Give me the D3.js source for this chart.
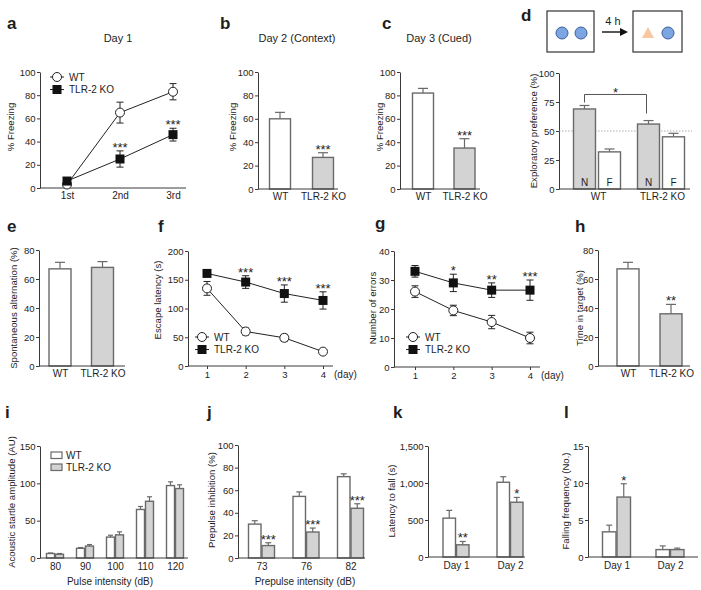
<!DOCTYPE html>
<html><head><meta charset="utf-8">
<script src="https://cdn.jsdelivr.net/npm/d3@7"></script>
<style>body{margin:0;background:#fff}</style>
</head><body><svg id="c" width="701" height="590"></svg>
<script>
// ---------- DATA ----------
const groups = ["WT", "TLR-2 KO"];
// a: Day 1 freezing
const aDays = ["1st", "2nd", "3rd"];
const aWT = [3, 65, 83], aWTerr = [1.5, 9, 7];
const aKO = [6, 25, 46], aKOerr = [2, 7, 5.5];
const aStars = ["", "***", "***"];
// b: Day 2 context
const bValues = [60, 27], bErr = [5.5, 4];
const bStars = ["", "***"];
// c: Day 3 cued
const cValues = [82, 35], cErr = [4, 8];
const cStars = ["", "***"];
// d: exploratory preference (N, F)
const dObjects = ["N", "F"];
const dWT = [69, 32], dWTerr = [3, 2.5];
const dKO = [56, 45], dKOerr = [3, 3];
// e: spontaneous alternation
const eValues = [67, 68], eErr = [4.5, 4];
// f: escape latency
const fDays = [1, 2, 3, 4];
const fWT = [135, 60, 49, 25], fWTerr = [12, 6, 6, 3];
const fKO = [161, 146, 126, 114], fKOerr = [5, 11, 15, 15];
const fStars = ["", "***", "***", "***"];
// g: number of errors
const gDays = [1, 2, 3, 4];
const gWT = [26, 19.5, 15.5, 10], gWTerr = [2, 1.8, 2.3, 2];
const gKO = [33, 29, 26.5, 26.5], gKOerr = [2, 3, 2.5, 3.5];
const gStars = ["", "*", "**", "***"];
// h: time in target
const hValues = [67, 36], hErr = [4.5, 6.5];
const hStars = ["", "**"];
// i: acoustic startle
const iIntensity = [80, 90, 100, 110, 120];
const iWT = [6, 13, 28, 65, 97], iWTerr = [0.7, 1, 2.5, 4, 5];
const iKO = [5, 16, 31, 76, 93], iKOerr = [1, 2, 4, 6, 5];
// j: prepulse inhibition
const jIntensity = [73, 76, 82];
const jWT = [30, 54.5, 72], jWTerr = [3, 4, 2.5];
const jKO = [11, 23, 44], jKOerr = [2.5, 3.5, 4];
const jStars = ["***", "***", "***"];
// k: latency to fall
const kDays = ["Day 1", "Day 2"];
const kWT = [525, 1010], kWTerr = [105, 75];
const kKO = [165, 740], kKOerr = [45, 65];
const kStars = ["**", "*"];
// l: falling frequency
const lDays = ["Day 1", "Day 2"];
const lWT = [3.4, 1.0], lWTerr = [0.9, 0.5];
const lKO = [8.1, 1.0], lKOerr = [1.8, 0.2];
const lStars = ["*", ""];

// ---------- DRAWING ----------
const svg = d3.select("#c");
const FONT = "'Liberation Sans', Arial, sans-serif";
const AX = "#3a3a3a", TXT = "#1e1e1e", GRAY = "#d3d3d3", BSTROKE = "#6a6a6a";

function text(x, y, s, o = {}) {
  return svg.append("text").attr("x", x).attr("y", y).text(s)
    .attr("font-family", FONT).attr("font-size", o.size || 10)
    .attr("font-weight", o.weight || "normal")
    .attr("text-anchor", o.anchor || "middle").attr("fill", TXT);
}
function letter(x, y, s) { text(x, y, s, {size: 17, weight: "bold", anchor: "start"}); }
function ylab(x, yc, s) {
  svg.append("text").attr("transform", `translate(${x},${yc}) rotate(-90)`)
    .attr("font-family", FONT).attr("font-size", 9.6).attr("text-anchor", "middle")
    .attr("fill", TXT).text(s);
}
function styleAxis(g) {
  g.selectAll("path,line").attr("stroke", AX).attr("stroke-width", 1);
  g.selectAll("text").attr("font-family", FONT).attr("font-size", 9.5).attr("fill", TXT);
}
function yAxis(x0, y, ticks, fmt) {
  const g = svg.append("g").attr("transform", `translate(${x0},0)`)
    .call(d3.axisLeft(y).tickValues(ticks).tickSize(3).tickSizeOuter(0).tickPadding(1.5)
      .tickFormat(fmt || d3.format("d")));
  styleAxis(g);
}
function xAxis(y0, x, x0, x1, tick, pad) {
  const g = svg.append("g").attr("transform", `translate(0,${y0})`)
    .call(d3.axisBottom(x).tickSize(tick || 0).tickPadding(pad || 4));
  g.select(".domain").remove();
  styleAxis(g);
  g.selectAll("text").attr("font-size", 10);
  svg.append("line").attr("x1", x0).attr("x2", x1).attr("y1", y0).attr("y2", y0)
    .attr("stroke", AX).attr("stroke-width", 1);
}
function bar(cx, w, y, v, e, fill, cap) {
  const top = y(v + e);
  svg.append("line").attr("x1", cx).attr("x2", cx).attr("y1", y(v)).attr("y2", top)
    .attr("stroke", BSTROKE).attr("stroke-width", 1.2);
  svg.append("rect").attr("x", cx - w / 2).attr("y", y(v)).attr("width", w)
    .attr("height", y(0) - y(v)).attr("fill", fill).attr("stroke", BSTROKE).attr("stroke-width", 1.4);
  svg.append("line").attr("x1", cx - cap / 2).attr("x2", cx + cap / 2).attr("y1", top).attr("y2", top)
    .attr("stroke", BSTROKE).attr("stroke-width", 1.2);
}
function stars(cx, y, v, e, s) {
  if (s) text(cx, y(v + e) + 1, s, {size: 13});
}
// two-bar simple panel
function twoBar(x0, x1, yScale, ticks, centers, vals, errs, starsArr, w) {
  const x = d3.scalePoint(groups, centers);
  yAxis(x0, yScale, ticks);
  groups.forEach((gname, i) => {
    bar(x(gname), w, yScale, vals[i], errs[i], i ? GRAY : "#fff", 10);
    if (starsArr) stars(x(gname), yScale, vals[i], errs[i], starsArr[i]);
  });
  xAxis(yScale(0), x, x0, x1);
}
// line chart
function lineChart(x, y, wt, wte, ko, koe) {
  const ln = d3.line().x((d, i) => x.pos(i)).y(d => y(d));
  svg.append("path").attr("d", ln(wt)).attr("fill", "none").attr("stroke", "#222").attr("stroke-width", 1);
  svg.append("path").attr("d", ln(ko)).attr("fill", "none").attr("stroke", "#222").attr("stroke-width", 1);
  [[wt, wte], [ko, koe]].forEach(([v, e]) => {
    v.forEach((d, i) => {
      const cx = x.pos(i);
      svg.append("line").attr("x1", cx).attr("x2", cx).attr("y1", y(d - e[i])).attr("y2", y(d + e[i])).attr("stroke", "#222");
      [d - e[i], d + e[i]].forEach(t => svg.append("line").attr("x1", cx - 3.5).attr("x2", cx + 3.5)
        .attr("y1", y(t)).attr("y2", y(t)).attr("stroke", "#222"));
    });
  });
  wt.forEach((d, i) => svg.append("circle").attr("cx", x.pos(i)).attr("cy", y(d)).attr("r", 4.5)
    .attr("fill", "#fff").attr("stroke", "#222").attr("stroke-width", 1));
  ko.forEach((d, i) => svg.append("rect").attr("x", x.pos(i) - 4.5).attr("y", y(d) - 4.5)
    .attr("width", 9).attr("height", 9).attr("fill", "#111"));
}
function lineLegend(x, y) {
  svg.append("line").attr("x1", x - 7).attr("x2", x + 7).attr("y1", y).attr("y2", y).attr("stroke", "#222");
  svg.append("circle").attr("cx", x).attr("cy", y).attr("r", 4.5).attr("fill", "#fff").attr("stroke", "#222");
  text(x + 12, y + 3.5, "WT", {anchor: "start"});
  svg.append("line").attr("x1", x - 7).attr("x2", x + 7).attr("y1", y + 12.5).attr("y2", y + 12.5).attr("stroke", "#222");
  svg.append("rect").attr("x", x - 4.5).attr("y", y + 8).attr("width", 9).attr("height", 9).attr("fill", "#111");
  text(x + 12, y + 16, "TLR-2 KO", {anchor: "start"});
}

// ---- a ----
letter(7, 29, "a");
text(118, 42, "Day 1", {size: 11});
{
  const y = d3.scaleLinear([0, 100], [188, 72]);
  const x = d3.scalePoint(aDays, [67, 173]);
  x.pos = i => x(aDays[i]);
  yAxis(40, y, [0, 20, 40, 60, 80, 100]);
  xAxis(188, x, 40, 186);
  lineChart(x, y, aWT, aWTerr, aKO, aKOerr);
  aDays.forEach((d, i) => stars(x(d), y, aKO[i], aKOerr[i], aStars[i]));
  lineLegend(57, 77);
  ylab(14, 127, "% Freezing");
}
// ---- b ----
letter(220, 29, "b");
text(297, 42, "Day 2 (Context)", {size: 11});
twoBar(258, 338, d3.scaleLinear([0, 100], [189, 72]), [0, 20, 40, 60, 80, 100], [280, 323], bValues, bErr, bStars, 21);
ylab(236, 127, "% Freezing");
// ---- c ----
letter(382, 29, "c");
text(439, 42, "Day 3 (Cued)", {size: 11});
twoBar(400, 480, d3.scaleLinear([0, 100], [189, 72]), [0, 20, 40, 60, 80, 100], [423, 464.5], cValues, cErr, cStars, 21);
ylab(383, 127, "% Freezing");
// ---- d ----
letter(521, 21, "d");
{
  // schematic
  svg.append("rect").attr("x", 547).attr("y", 11).attr("width", 47).attr("height", 41).attr("fill", "#fff").attr("stroke", "#333").attr("stroke-width", 1.2);
  svg.append("rect").attr("x", 633).attr("y", 11).attr("width", 49).attr("height", 41).attr("fill", "#fff").attr("stroke", "#333").attr("stroke-width", 1.2);
  [562, 581, 668].forEach(cx => svg.append("circle").attr("cx", cx).attr("cy", 33).attr("r", 6)
    .attr("fill", "#7ba6e2").attr("stroke", "#3d5e99").attr("stroke-width", 1));
  svg.append("path").attr("d", "M648,27 L654,38 L642,38 Z").attr("fill", "#f8c8a0");
  svg.append("line").attr("x1", 602).attr("x2", 623).attr("y1", 32).attr("y2", 32).attr("stroke", "#111").attr("stroke-width", 1.4);
  svg.append("path").attr("d", "M628,32 L620,28 L620,36 Z").attr("fill", "#111");
  text(613, 25, "4 h", {size: 11});

  const y = d3.scaleLinear([0, 100], [189, 73]);
  const x = d3.scalePoint(groups, [598, 662]);
  yAxis(559, y, [0, 25, 50, 75, 100]);
  svg.append("line").attr("x1", 559).attr("x2", 692).attr("y1", y(50)).attr("y2", y(50))
    .attr("stroke", "#999").attr("stroke-width", 0.8).attr("stroke-dasharray", "1.5,1.5");
  const centers = [];
  [[dWT, dWTerr], [dKO, dKOerr]].forEach(([v, e], gi) => {
    dObjects.forEach((o, k) => {
      const cx = x(groups[gi]) + (k ? 11.5 : -13.5);
      centers.push(cx);
      bar(cx, 22, y, v[k], e[k], k ? "#fff" : GRAY, 10);
      text(cx, 185.5, o);
    });
  });
  // bracket between WT N and KO N
  const lx = centers[0], rx = centers[2] - 2;
  const ly = y(dWT[0] + dWTerr[0]) - 3, ry = y(dKO[0] + dKOerr[0]) - 7, by = y(dWT[0] + dWTerr[0]) - 11;
  svg.append("path").attr("d", `M${lx},${ly} L${lx},${by} L${rx},${by} L${rx},${ry}`)
    .attr("fill", "none").attr("stroke", "#555").attr("stroke-width", 1);
  text((lx + rx) / 2, by + 2.5, "*", {size: 13});
  xAxis(189, x, 559, 690);
  ylab(537, 131, "Exploratory preference (%)");
}
// ---- e ----
letter(7, 232, "e");
twoBar(39, 125, d3.scaleLinear([0, 80], [366, 250]), [0, 20, 40, 60, 80], [60, 102.5], eValues, eErr, null, 22);
ylab(17, 308, "Spontaneous alternation (%)");
// ---- f ----
letter(158, 232, "f");
{
  const y = d3.scaleLinear([0, 200], [366, 251]);
  const x = d3.scaleLinear([1, 4], [207, 323]);
  x.pos = i => x(fDays[i]);
  yAxis(188, y, [0, 50, 100, 150, 200]);
  const g = svg.append("g").attr("transform", "translate(0,366)")
    .call(d3.axisBottom(x).tickValues(fDays).tickFormat(d3.format("d")).tickSize(3).tickPadding(2));
  g.select(".domain").remove(); styleAxis(g);
  svg.append("line").attr("x1", 188).attr("x2", 333).attr("y1", 366).attr("y2", 366).attr("stroke", AX);
  text(334, 378, "(day)", {anchor: "start"});
  lineChart(x, y, fWT, fWTerr, fKO, fKOerr);
  fDays.forEach((d, i) => stars(x(d), y, fKO[i], fKOerr[i], fStars[i]));
  lineLegend(202, 337);
  ylab(161, 300, "Escape latency (s)");
}
// ---- g ----
letter(375, 229, "g");
{
  const y = d3.scaleLinear([0, 40], [367, 251]);
  const x = d3.scaleLinear([1, 4], [415, 530]);
  x.pos = i => x(gDays[i]);
  yAxis(394, y, [0, 10, 20, 30, 40]);
  const g = svg.append("g").attr("transform", "translate(0,367)")
    .call(d3.axisBottom(x).tickValues(gDays).tickFormat(d3.format("d")).tickSize(3).tickPadding(2));
  g.select(".domain").remove(); styleAxis(g);
  svg.append("line").attr("x1", 394).attr("x2", 540).attr("y1", 367).attr("y2", 367).attr("stroke", AX);
  text(541, 379, "(day)", {anchor: "start"});
  lineChart(x, y, gWT, gWTerr, gKO, gKOerr);
  gDays.forEach((d, i) => stars(x(d), y, gKO[i], gKOerr[i], gStars[i]));
  lineLegend(413, 337);
  ylab(376, 308, "Number of errors");
}
// ---- h ----
letter(575, 232, "h");
twoBar(598, 690, d3.scaleLinear([0, 80], [366, 250]), [0, 20, 40, 60, 80], [628, 671], hValues, hErr, hStars, 22);
ylab(583, 308, "Time in target (%)");

// grouped bars helper
function grouped(x0, x1, y, ticks, fmt, cats, centers, wt, wte, ko, koe, w, cap, st) {
  const x = d3.scalePoint(cats, centers);
  yAxis(x0, y, ticks, fmt);
  cats.forEach((c, i) => {
    bar(x(c) - w / 2 - 0.5, w, y, wt[i], wte[i], "#fff", cap);
    bar(x(c) + w / 2 + 0.5, w, y, ko[i], koe[i], GRAY, cap);
    if (st) stars(x(c) + w / 2 + 0.5, y, ko[i], koe[i], st[i]);
  });
  xAxis(y(0), x, x0, x1, 0, 5);
}
// ---- i ----
letter(5, 418, "i");
grouped(40, 188, d3.scaleLinear([0, 150], [558, 446]), [0, 50, 100, 150], null,
  iIntensity, [55, 175], iWT, iWTerr, iKO, iKOerr, 8, 5, null);
svg.append("rect").attr("x", 51).attr("y", 452).attr("width", 11).attr("height", 6.5).attr("fill", "#fff").attr("stroke", BSTROKE).attr("stroke-width", 1.2);
svg.append("rect").attr("x", 51).attr("y", 464).attr("width", 11).attr("height", 6.5).attr("fill", GRAY).attr("stroke", BSTROKE).attr("stroke-width", 1.2);
text(66, 459, "WT", {anchor: "start"});
text(66, 471, "TLR-2 KO", {anchor: "start"});
text(110, 585, "Pulse intensity (dB)");
ylab(15, 502, "Acoustic startle amplitude (AU)");
// ---- j ----
letter(207, 418, "j");
grouped(238, 365, d3.scaleLinear([0, 100], [558, 445]), [0, 20, 40, 60, 80, 100], null,
  jIntensity, [261.5, 350.5], jWT, jWTerr, jKO, jKOerr, 12.5, 6, jStars);
text(305, 585, "Prepulse intensity (dB)");
ylab(215, 500, "Prepulse inhibition (%)");
// ---- k ----
letter(393, 418, "k");
grouped(428, 525, d3.scaleLinear([0, 1500], [557, 446]), [0, 500, 1000, 1500], d3.format(","),
  kDays, [456, 510], kWT, kWTerr, kKO, kKOerr, 12.5, 6, kStars);
ylab(395, 501, "Latency to fall (s)");
// ---- l ----
letter(564, 418, "l");
grouped(588, 698, d3.scaleLinear([0, 15], [557, 446]), [0, 5, 10, 15], null,
  lDays, [616.5, 670], lWT, lWTerr, lKO, lKOerr, 13.5, 6, lStars);
ylab(569, 501, "Falling frequency (No.)");
</script></body></html>
